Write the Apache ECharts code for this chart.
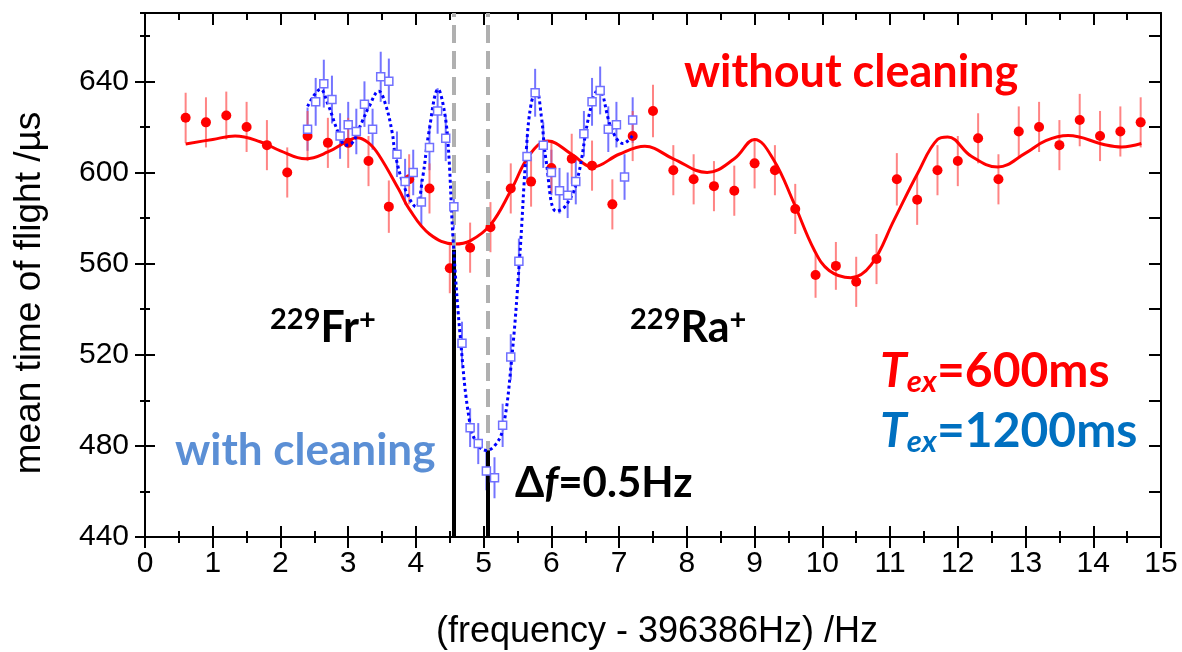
<!DOCTYPE html>
<html>
<head>
<meta charset="utf-8">
<script src="https://cdn.jsdelivr.net/npm/echarts@6/dist/echarts.min.js"></script>
<style>
  html, body { margin: 0; padding: 0; background: #fff; }
  #main { width: 1182px; height: 652px; }
</style>
</head>
<body>
<div id="main"></div>
<script>
// red points: T_ex = 600 ms, without cleaning
var redFreq = [0.6, 0.9, 1.2, 1.5, 1.8, 2.1, 2.4, 2.7, 3.0, 3.3, 3.6, 3.9, 4.2, 4.5, 4.8, 5.1,
    5.4, 5.7, 6.0, 6.3, 6.6, 6.9, 7.2, 7.5, 7.8, 8.1, 8.4, 8.7, 9.0, 9.3, 9.6, 9.9,
    10.2, 10.5, 10.8, 11.1, 11.4, 11.7, 12.0, 12.3, 12.6, 12.9, 13.2, 13.5, 13.8, 14.1, 14.4, 14.7];
var redTof = [624, 622, 625, 620, 612, 600, 616, 613, 613, 605, 585, 597, 593, 558, 567, 576,
    593, 596, 602, 606, 603, 586, 616, 627, 601, 597, 594, 592, 604, 601, 584, 555,
    559, 552, 562, 597, 588, 601, 605, 615, 597, 618, 620, 612, 623, 616, 618, 622];
var redErr = [11, 11, 10.5, 11, 11, 11, 11, 11, 11, 11, 11.5, 11, 11, 11, 11, 11,
    11, 11, 11, 11, 11, 11, 11, 11.5, 11, 11, 11, 11, 11, 11, 11, 10,
    10.5, 11, 11, 11.5, 11, 11, 11, 11, 11, 11, 11, 11, 11.5, 11, 11, 11];

// red fit curve
var redFitFreq = [0.6, 1.0, 1.33, 1.7, 2.0, 2.37, 2.7, 3.0, 3.13, 3.3, 3.45, 3.75, 3.9, 4.2, 4.57, 4.8,
    5.1, 5.4, 5.68, 5.95, 6.3, 6.61, 7.0, 7.38, 7.8, 8.3, 8.7, 9.0, 9.28, 9.58, 9.88, 10.1,
    10.42, 10.72, 11.06, 11.41, 11.7, 11.85, 12.2, 12.59, 13.0, 13.3, 13.63, 14.17, 14.42, 14.71];
var redFitTof = [612.5, 614.5, 616, 613.5, 609.5, 606, 609, 614, 615.2, 613, 607.8, 592.4, 584, 573, 568.6, 570,
    577, 592, 607.8, 613.8, 608, 602.4, 608, 611.5, 606, 600, 606, 614.5, 605.6, 586.6, 566, 557,
    553.8, 559.4, 579.2, 599.8, 614.5, 615.6, 607.1, 602.4, 608.5, 614, 616.2, 612.2, 611.2, 612.7];

// blue points: T_ex = 1200 ms, with cleaning
var blueFreq = [2.40, 2.52, 2.64, 2.76, 2.88, 3.00, 3.12, 3.24, 3.36, 3.48, 3.60, 3.72, 3.84, 3.96,
    4.08, 4.20, 4.32, 4.44, 4.56, 4.68, 4.80, 4.92, 5.04, 5.16, 5.28, 5.40, 5.52, 5.64,
    5.76, 5.88, 6.00, 6.12, 6.24, 6.36, 6.48, 6.60, 6.72, 6.84, 6.96, 7.08, 7.20];
var blueTof = [619, 631, 639, 632, 616, 621, 618, 630, 619, 642, 640, 608, 596, 600,
    587, 611, 627, 615, 585, 525, 488, 481, 469, 466, 489, 519, 561, 607,
    635, 612, 600, 592, 590, 596, 617, 631, 636, 619, 621, 598, 623];
var blueErr = [9.5, 10.5, 10.5, 10.5, 10, 10, 10, 10, 9, 11, 10, 10, 10, 10,
    10, 10, 10, 10, 10, 9.5, 8.5, 9, 8.5, 9, 9.5, 10, 10, 10,
    10.5, 10, 10, 10, 10, 10, 10, 10.5, 10.5, 10, 10, 10, 10];

// blue fit curve
var blueFitFreq = [2.40, 2.50, 2.59, 2.70, 2.86, 2.96, 3.06, 3.20, 3.31, 3.45, 3.55, 3.65, 3.70, 3.85,
    4.00, 4.10, 4.19, 4.33, 4.40, 4.47, 4.55, 4.66, 4.79, 4.90, 5.04, 5.16, 5.28, 5.41,
    5.53, 5.63, 5.70, 5.78, 5.85, 5.92, 6.07, 6.20, 6.37, 6.57, 6.70, 6.89, 7.06, 7.21];
var blueFitTof = [629, 634, 636.5, 630, 617, 612, 613, 622, 629, 635.7, 630, 617.4, 607, 592,
    585, 598, 617.4, 636.5, 630, 614.5, 570, 526, 491, 481, 478, 480, 487, 517,
    562, 610, 630, 636, 625, 605.6, 583, 585, 595.4, 627, 636.8, 619, 612.7, 616.7];

// resonance markers
var resFreq = [4.56, 5.06];
var resTof = [566, 478];

var yMin = 440, yMax = 670;

function pairs(xs, ys) {
    return xs.map(function (x, i) { return [x, ys[i]]; });
}
function errData(xs, ys, es) {
    return xs.map(function (x, i) { return [x, ys[i] - es[i], ys[i] + es[i]]; });
}
function errRender(color) {
    return function (params, api) {
        var a = api.coord([api.value(0), api.value(1)]);
        var b = api.coord([api.value(0), api.value(2)]);
        return {
            type: 'line',
            shape: { x1: a[0], y1: a[1], x2: b[0], y2: b[1] },
            style: { stroke: color, lineWidth: 2 }
        };
    };
}

var axisFont = 'Liberation Sans, Arial, sans-serif';
var textFont = 'Lato, Open Sans, sans-serif';
var black = { color: '#000', width: 2 };

function xAx(pos, inside, len, minorLen, labels) {
    return {
        type: 'value', position: pos, min: 0, max: 15, interval: 1,
        axisLine: { show: true, onZero: false, lineStyle: black },
        axisTick: { show: true, inside: inside, length: len, lineStyle: black },
        minorTick: { show: true, splitNumber: 2, length: minorLen, lineStyle: black },
        axisLabel: labels ? { show: true, fontSize: 30, fontFamily: axisFont, color: '#000', margin: 12 } : { show: false },
        splitLine: { show: false }
    };
}
function yAx(pos, inside, len, interval, labels) {
    return {
        type: 'value', position: pos, min: yMin, max: yMax, interval: interval,
        axisLine: { show: true, onZero: false, lineStyle: black },
        axisTick: { show: true, inside: inside, length: len, lineStyle: black },
        axisLabel: labels ? { show: true, fontSize: 30, fontFamily: axisFont, color: '#000', margin: 16, showMaxLabel: false } : { show: false },
        splitLine: { show: false }
    };
}

function isotope(mass, sym) {
    return '{s|' + mass + '}{b|' + sym + '}{s|+}';
}
var isoRich = {
    s: { fontFamily: textFont, fontWeight: 'bold', fontSize: 29, fill: '#000', verticalAlign: 'top' },
    b: { fontFamily: textFont, fontWeight: 'bold', fontSize: 43, fill: '#000', lineHeight: 46 }
};
function texRich(color) {
    return {
        t: { fontFamily: textFont, fontWeight: 'bold', fontStyle: 'italic', fontSize: 48, fill: color, lineHeight: 50 },
        e: { fontFamily: textFont, fontWeight: 'bold', fontStyle: 'italic', fontSize: 31, fill: color, verticalAlign: 'bottom' },
        n: { fontFamily: textFont, fontWeight: 'bold', fontSize: 48, fill: color, lineHeight: 50 }
    };
}

var chart = echarts.init(document.getElementById('main'));
var option = {
    backgroundColor: '#ffffff',
    animation: false,
    grid: { left: 145, right: 21, top: 13, bottom: 115 },
    xAxis: [
        xAx('bottom', false, 11, 6, true),
        xAx('bottom', true, 11, 6, false),
        xAx('top', true, 12, 7, false)
    ],
    yAxis: [
        yAx('left', false, 10, 40, true),
        yAx('left', true, 10, 40, false),
        yAx('left', false, 5, 20, false),
        yAx('left', true, 5, 20, false),
        yAx('right', true, 12, 20, false)
    ],
    graphic: [
        {
            type: 'text', x: 30, y: 293, rotation: Math.PI / 2,
            style: { text: 'mean time of flight /µs', font: '37px ' + axisFont, fill: '#000', align: 'center', verticalAlign: 'middle' }
        },
        {
            type: 'text', x: 657, y: 632,
            style: { text: '(frequency - 396386Hz) /Hz', font: '36px ' + axisFont, fill: '#000', align: 'center', verticalAlign: 'middle' }
        },
        {
            type: 'text', x: 684, y: 72,
            style: { text: 'without cleaning', font: 'bold 45px ' + textFont, fill: '#ff0000', verticalAlign: 'middle' }
        },
        {
            type: 'text', x: 175, y: 451,
            style: { text: 'with cleaning', font: 'bold 44px ' + textFont, fill: '#5b8fd5', verticalAlign: 'middle' }
        },
        {
            type: 'text', x: 270, y: 328,
            style: { text: isotope(229, 'Fr'), verticalAlign: 'middle', rich: isoRich }
        },
        {
            type: 'text', x: 630, y: 328,
            style: { text: isotope(229, 'Ra'), verticalAlign: 'middle', rich: isoRich }
        },
        {
            type: 'text', x: 880, y: 372,
            style: { text: '{t|T}{e|ex}{n|=600ms}', verticalAlign: 'middle', rich: texRich('#ff0000') }
        },
        {
            type: 'text', x: 880, y: 432,
            style: { text: '{t|T}{e|ex}{n|=1200ms}', verticalAlign: 'middle', rich: texRich('#0070c0') }
        },
        {
            type: 'text', x: 515, y: 483,
            style: {
                text: '{n|Δ}{i|f}{n|=0.5Hz}', verticalAlign: 'middle',
                rich: {
                    n: { fontFamily: textFont, fontWeight: 'bold', fontSize: 42, fill: '#000' },
                    i: { fontFamily: textFont, fontWeight: 'bold', fontStyle: 'italic', fontSize: 42, fill: '#000' }
                }
            }
        }
    ],
    series: [
        {
            // dashed resonance lines
            type: 'line', data: [], silent: true,
            markLine: {
                symbol: 'none', silent: true, label: { show: false },
                lineStyle: { color: '#b0b0b0', type: [18, 8], width: 4 },
                data: resFreq.map(function (f) { return { xAxis: f }; })
            }
        },
        {
            // black markers under each resonance
            type: 'line', data: [], silent: true,
            markLine: {
                symbol: 'none', silent: true, label: { show: false },
                lineStyle: { color: '#000', type: 'solid', width: 4 },
                data: resFreq.map(function (f, i) { return [{ coord: [f, yMin] }, { coord: [f, resTof[i]] }]; })
            }
        },
        {
            type: 'custom', renderItem: errRender('rgba(70,70,255,0.75)'),
            data: errData(blueFreq, blueTof, blueErr), z: 2
        },
        {
            type: 'custom', renderItem: errRender('rgba(255,80,80,0.7)'),
            data: errData(redFreq, redTof, redErr), z: 2
        },
        {
            type: 'line', data: pairs(redFitFreq, redFitTof), smooth: 0.4,
            symbol: 'none', lineStyle: { color: '#ff0000', width: 3 }, z: 3
        },
        {
            type: 'scatter', data: pairs(redFreq, redTof), symbol: 'circle', symbolSize: 10,
            itemStyle: { color: '#ff0000', opacity: 1 }, z: 4
        },
        {
            type: 'line', data: pairs(blueFitFreq, blueFitTof), smooth: 0.4,
            symbol: 'none', lineStyle: { color: '#0000ff', width: 3, type: 'dotted' }, z: 5
        },
        {
            type: 'scatter', data: pairs(blueFreq, blueTof), symbol: 'rect', symbolSize: 8,
            itemStyle: { color: '#ffffff', borderColor: '#7070ff', borderWidth: 1.5, opacity: 1 }, z: 6
        }
    ]
};
chart.setOption(option);
</script>
</body>
</html>
